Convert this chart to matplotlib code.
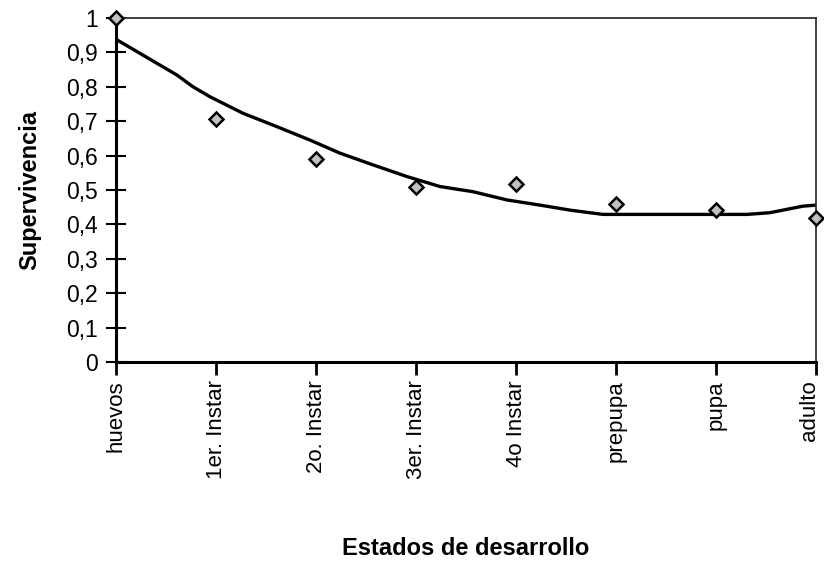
import numpy as np
import matplotlib.pyplot as plt
import matplotlib.transforms as mtransforms

# stages and observed survival
estados = ["huevos", "1er. Instar", "2o. Instar", "3er. Instar",
           "4o Instar", "prepupa", "pupa", "adulto"]
supervivencia = [1.0, 0.706, 0.590, 0.509, 0.517, 0.459, 0.442, 0.419]

# fitted curve
curva_x = [0, 0.27, 0.61, 0.77, 0.94, 1.27, 1.61, 1.94, 2.24, 2.57, 2.91,
           3.24, 3.57, 3.91, 4.24, 4.55, 4.87, 6.31, 6.54, 6.87, 7]
curva_y = [0.938, 0.892, 0.834, 0.800, 0.771, 0.723, 0.684, 0.645, 0.607,
           0.573, 0.539, 0.510, 0.495, 0.471, 0.456, 0.441, 0.429, 0.429,
           0.434, 0.453, 0.456]

y_ticks = [0, 0.1, 0.2, 0.3, 0.4, 0.5, 0.6, 0.7, 0.8, 0.9, 1]

plt.rcParams['font.family'] = ['Liberation Sans', 'DejaVu Sans']

fig = plt.figure(figsize=(8.24, 5.64), dpi=100)
ax = fig.add_axes([0.1408, 0.3582, 0.8495, 0.6099])

ax.plot(curva_x, curva_y, color='black', lw=2.4, solid_joinstyle='round', zorder=2)
ax.plot(range(len(estados)), supervivencia, linestyle='none', marker='D',
        markersize=6.8, markerfacecolor='#c0c0c0', markeredgecolor='black',
        markeredgewidth=1.8, clip_on=False, zorder=3)

ax.set_xlim(0, len(estados) - 1)
ax.set_ylim(0, 1)

ax.set_xticks(range(len(estados)))
ax.set_xticklabels(estados, rotation=90, fontsize=16)
ax.set_yticks(y_ticks)
ax.set_yticklabels([('%g' % v).replace('.', ',') for v in y_ticks], fontsize=16.5)

ax.tick_params(axis='x', direction='out', length=9, width=2, pad=4)
ax.tick_params(axis='y', direction='inout', length=14, width=1.5, pad=6)

# nudge the last label so it stays inside the figure
last = ax.get_xticklabels()[-1]
last.set_transform(last.get_transform() +
                   mtransforms.ScaledTranslation(-5 / 72, 0, fig.dpi_scale_trans))

for side in ['left', 'bottom']:
    ax.spines[side].set_linewidth(2.2)
for side in ['top', 'right']:
    ax.spines[side].set_linewidth(1.3)
    ax.spines[side].set_color('#333333')

ax.set_ylabel("Supervivencia", fontsize=17, fontweight='bold')
ax.yaxis.label.set_va('center')
ax.yaxis.set_label_coords(-0.123, 0.5)
ax.set_xlabel("Estados de desarrollo", fontsize=17, fontweight='bold')
ax.xaxis.label.set_va('center')
ax.xaxis.set_label_coords(0.5, -0.541)

fig.savefig("out.png", dpi=100)
plt.close()
